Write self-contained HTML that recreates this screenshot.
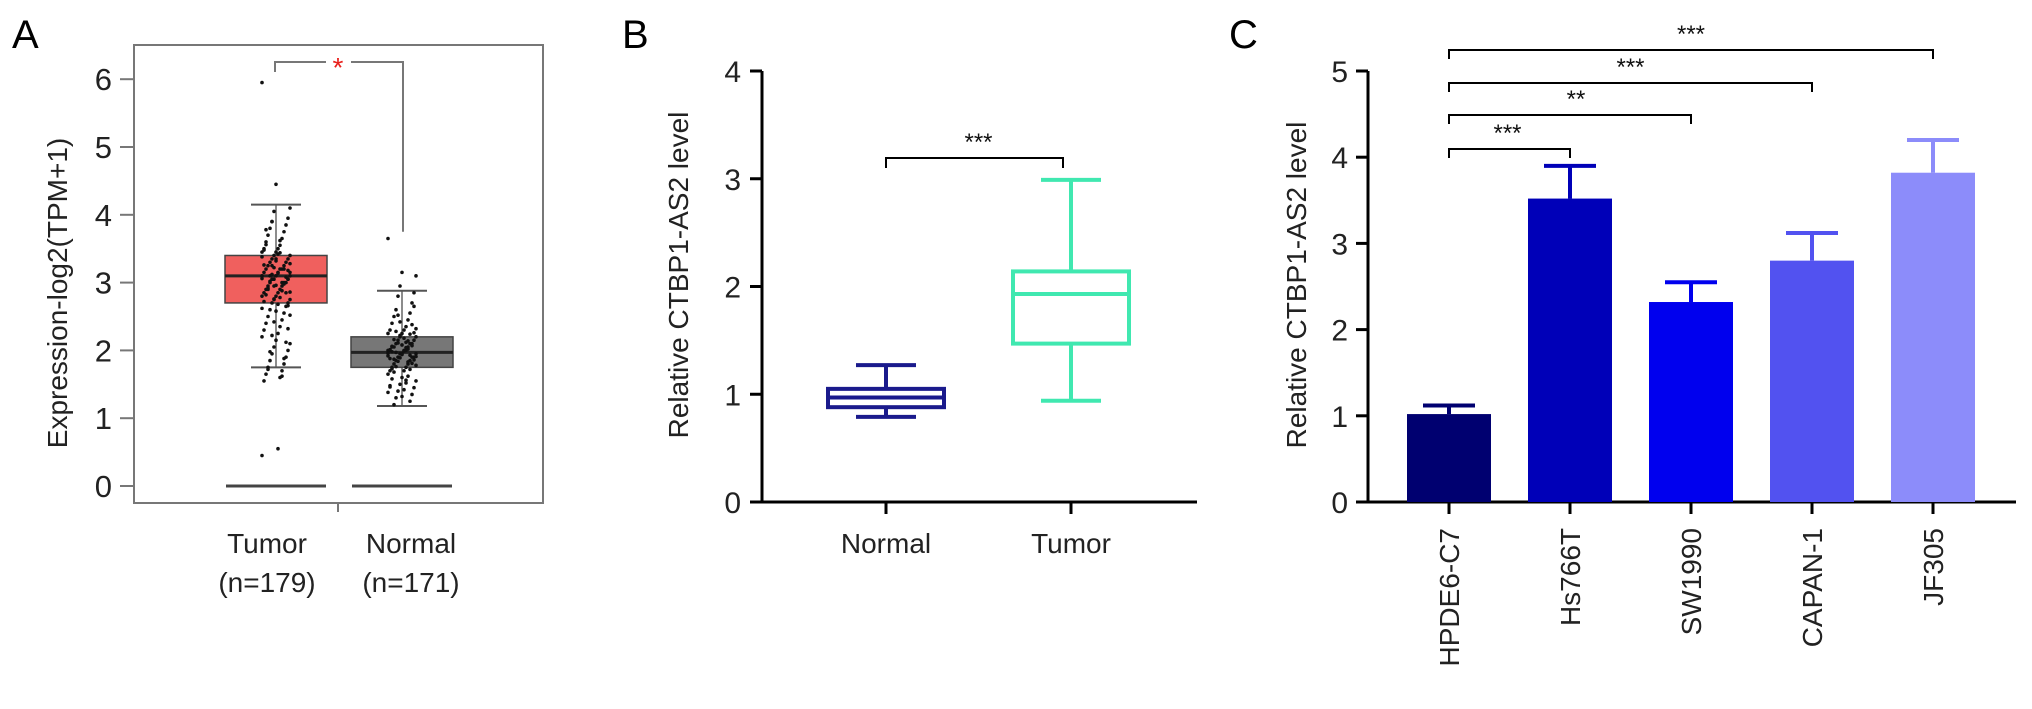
<!DOCTYPE html>
<html><head><meta charset="utf-8">
<style>
html,body{margin:0;padding:0;background:#fff;}
svg{display:block;font-family:"Liberation Sans",Arial,sans-serif;}
</style></head>
<body>
<svg id="fig" width="2032" height="709" viewBox="0 0 2032 709" xmlns="http://www.w3.org/2000/svg">
<text x="12" y="48" font-size="40">A</text>
<text x="622" y="48" font-size="40">B</text>
<text x="1229" y="48" font-size="40">C</text>
<g id="pa"></g>
<g id="pb"></g>
<g id="pc"></g>
</svg>
<script>
// ---------- Panel A data ----------
const aCategories = ["Tumor", "Normal"];
const aSubLabels = ["(n=179)", "(n=171)"];
const aTicks = [0,1,2,3,4,5,6];
const aQ1 = [2.7, 1.75];
const aMedian = [3.1, 1.97];
const aQ3 = [3.4, 2.2];
const aWhiskLo = [1.75, 1.18];
const aWhiskHi = [4.15, 2.88];
const aZeroLine = [0, 0];
const aTumorPoints = [5.95,4.45,4.1,4.05,3.95,3.9,3.85,3.8,3.75,3.7,3.65,3.6,3.55,3.5,3.5,3.45,3.45,3.4,3.4,3.35,3.35,3.3,3.3,3.25,3.25,3.2,3.2,3.2,3.15,3.15,3.1,3.1,3.1,3.05,3.05,3.05,3.0,3.0,3.0,2.95,2.95,2.9,2.9,2.85,2.85,2.8,2.8,2.75,2.75,2.7,2.7,2.65,2.6,2.55,2.5,2.45,2.4,2.35,2.3,2.25,2.2,2.15,2.1,2.05,2.0,1.95,1.9,1.85,1.8,1.75,1.7,1.65,1.6,1.55,0.55,0.45,3.35,3.15,2.95,3.05,3.25,2.85,3.1,3.2,2.9,3.0,
  3.78,3.62,3.48,3.42,3.38,3.32,3.28,3.22,3.18,3.12,3.08,3.02,2.98,2.92,2.88,2.82,2.78,2.72,2.68,2.62,2.58,2.52,2.42,2.32,2.22,2.12,1.98,1.88,1.72,1.62,3.56,3.44,3.26,3.14,3.06,2.96,2.86,2.76,2.66,3.9];
const aNormalPoints = [3.65,3.15,3.1,2.95,2.85,2.8,2.7,2.6,2.55,2.5,2.45,2.4,2.35,2.3,2.3,2.25,2.25,2.2,2.2,2.15,2.15,2.1,2.1,2.1,2.05,2.05,2.05,2.0,2.0,2.0,2.0,1.95,1.95,1.95,1.9,1.9,1.9,1.85,1.85,1.8,1.8,1.75,1.75,1.7,1.7,1.65,1.6,1.55,1.5,1.45,1.4,1.35,1.3,1.25,1.2,2.02,1.98,2.12,1.88,2.18,1.92,2.08,1.78,2.22,
  2.65,2.52,2.38,2.28,2.24,2.16,2.14,2.06,2.04,2.01,1.99,1.96,1.94,1.91,1.89,1.86,1.84,1.81,1.76,1.72,1.68,1.62,1.58,1.52,1.48,1.42,1.38,1.32,2.32,2.42,2.26,2.11,2.07,1.97,1.93,1.87,1.83,1.73,1.56,1.46];
const aSig = "*";

// ---------- Panel B data ----------
const bCategories = ["Normal", "Tumor"];
const bTicks = [0,1,2,3,4];
const bQ1 = [0.88, 1.47];
const bMedian = [0.97, 1.93];
const bQ3 = [1.05, 2.14];
const bWhiskLo = [0.79, 0.94];
const bWhiskHi = [1.27, 2.99];
const bSig = "***";

// ---------- Panel C data ----------
const cCategories = ["HPDE6-C7", "Hs766T", "SW1990", "CAPAN-1", "JF305"];
const cTicks = [0,1,2,3,4,5];
const cMeans = [1.02, 3.52, 2.32, 2.8, 3.82];
const cErrors = [0.1, 0.38, 0.23, 0.32, 0.38];
const cSigTargets = [1, 2, 3, 4];
const cSigLabels = ["***", "**", "***", "***"];

const NS = "http://www.w3.org/2000/svg";
function mk(parent, tag, attrs, text) {
  const e = document.createElementNS(NS, tag);
  for (const k in attrs) e.setAttribute(k, attrs[k]);
  if (text !== undefined) e.textContent = text;
  parent.appendChild(e);
  return e;
}

// ===== Panel A =====
(function(){
  const g = document.getElementById("pa");
  const y = v => 486 - v * 67.8;
  const xc = [276, 402];
  const halfW = 51;
  const frame = mk(g, "rect", {x:134, y:45, width:409, height:458, fill:"none", stroke:"#777", "stroke-width":2});
  
  
  aTicks.forEach(t => {
    const tk = mk(g, "line", {x1:120, x2:134, y1:y(t), y2:y(t), stroke:"#777", "stroke-width":2});
    
    
    const tl = mk(g, "text", {x:112, y:y(t)+11, "font-size":31, "text-anchor":"end", fill:"#222"}, t);
    
    
  });
  const xt = mk(g, "line", {x1:338, x2:338, y1:503, y2:512, stroke:"#777", "stroke-width":2});
  
  
  const yt = mk(g, "text", {x:0, y:0, "font-size":28, "text-anchor":"middle", fill:"#222", transform:"translate(67,293) rotate(-90)"}, "Expression-log2(TPM+1)");
  
  
  const fills = ["#f0605e", "#777777"];
  const boxNames = ["box-tumor", "box-normal"];
  aCategories.forEach((c, i) => {
    const x = xc[i];
    const w1 = mk(g, "line", {x1:x, x2:x, y1:y(aWhiskHi[i]), y2:y(aQ3[i]), stroke:"#666", "stroke-width":1.5});
    
    
    const w2 = mk(g, "line", {x1:x, x2:x, y1:y(aQ1[i]), y2:y(aWhiskLo[i]), stroke:"#666", "stroke-width":1.5});
    
    
    [aWhiskHi[i], aWhiskLo[i]].forEach(v => {
      const cap = mk(g, "line", {x1:x-25, x2:x+25, y1:y(v), y2:y(v), stroke:"#555", "stroke-width":2});
      
      
    });
    const b = mk(g, "rect", {x:x-halfW, y:y(aQ3[i]), width:halfW*2, height:y(aQ1[i])-y(aQ3[i]), fill:fills[i], stroke:"#444", "stroke-width":1.5});
    
    
    const m = mk(g, "line", {x1:x-halfW, x2:x+halfW, y1:y(aMedian[i]), y2:y(aMedian[i]), stroke:"#222", "stroke-width":3});
    
    
    const z = mk(g, "line", {x1:x-50, x2:x+50, y1:y(aZeroLine[i]), y2:y(aZeroLine[i]), stroke:"#444", "stroke-width":3});
    
    
    const lx = i === 0 ? 267 : 411;
    const l1 = mk(g, "text", {x:lx, y:553, "font-size":28, "text-anchor":"middle", fill:"#222"}, c);
    
    
    const l2 = mk(g, "text", {x:lx, y:592, "font-size":28, "text-anchor":"middle", fill:"#222"}, aSubLabels[i]);
    
    
  });
  const pts = [aTumorPoints, aNormalPoints];
  pts.forEach((arr, i) => {
    arr.forEach((v, j) => {
      const off = ((j * 7) % 15 - 7) * 2;
      const d = mk(g, "circle", {cx:xc[i]+off, cy:y(v), r:1.8, fill:"#111"});
      
      
    });
  });
  const br = mk(g, "path", {d:`M275 72 V62 H326 M351 62 H403 V${y(3.75)}`, fill:"none", stroke:"#777", "stroke-width":2});
  
  
  const st = mk(g, "text", {x:338, y:77, "font-size":28, "text-anchor":"middle", fill:"#e8201c"}, aSig);
  
  
})();

// ===== Panel B =====
(function(){
  const g = document.getElementById("pb");
  const y = v => 502 - v * 107.75;
  const xc = [886, 1071];
  const colors = ["#1a1a8c", "#40e8b0"];
  const ax = mk(g, "path", {d:"M762 71 V502 H1197", fill:"none", stroke:"#000", "stroke-width":3});
  
  
  bTicks.forEach(t => {
    const tk = mk(g, "line", {x1:750, x2:762, y1:y(t), y2:y(t), stroke:"#000", "stroke-width":3});
    
    
    const tl = mk(g, "text", {x:741, y:y(t)+11, "font-size":30, "text-anchor":"end", fill:"#222"}, t);
    
    
  });
  const yt = mk(g, "text", {x:0, y:0, "font-size":28, "text-anchor":"middle", fill:"#222", transform:"translate(688,275) rotate(-90)"}, "Relative CTBP1-AS2 level");
  
  
  bCategories.forEach((c, i) => {
    const x = xc[i];
    const col = colors[i];
    const tk = mk(g, "line", {x1:x, x2:x, y1:502, y2:514, stroke:"#000", "stroke-width":3});
    
    
    const lb = mk(g, "text", {x:x, y:553, "font-size":28, "text-anchor":"middle", fill:"#222"}, c);
    
    
    const wl = mk(g, "path", {d:`M${x} ${y(bWhiskHi[i])} V${y(bQ3[i])} M${x} ${y(bQ1[i])} V${y(bWhiskLo[i])} M${x-30} ${y(bWhiskHi[i])} H${x+30} M${x-30} ${y(bWhiskLo[i])} H${x+30}`, fill:"none", stroke:col, "stroke-width":4});
    
    
    const bx = mk(g, "rect", {x:x-58, y:y(bQ3[i]), width:116, height:y(bQ1[i])-y(bQ3[i]), fill:"none", stroke:col, "stroke-width":4});
    
    
    const md = mk(g, "line", {x1:x-58, x2:x+58, y1:y(bMedian[i]), y2:y(bMedian[i]), stroke:col, "stroke-width":4});
    
    
  });
  const br = mk(g, "path", {d:`M${xc[0]} 168 V158 H${xc[1]-8} V168`, fill:"none", stroke:"#000", "stroke-width":2});
  
  
  const st = mk(g, "text", {x:(xc[0]+xc[1])/2, y:150, "font-size":24, "text-anchor":"middle", fill:"#111"}, bSig);
  
  
})();

// ===== Panel C =====
(function(){
  const g = document.getElementById("pc");
  const y = v => 502 - v * 86.2;
  const x = i => 1449 + i * 121;
  const colors = ["#000070", "#0000b8", "#0000ee", "#5252f0", "#8c8cfa"];
  const ax = mk(g, "path", {d:"M1368 71 V502 H2016", fill:"none", stroke:"#000", "stroke-width":3});
  
  
  cTicks.forEach(t => {
    const tk = mk(g, "line", {x1:1356, x2:1368, y1:y(t), y2:y(t), stroke:"#000", "stroke-width":3});
    
    
    const tl = mk(g, "text", {x:1348, y:y(t)+11, "font-size":30, "text-anchor":"end", fill:"#222"}, t);
    
    
  });
  const yt = mk(g, "text", {x:0, y:0, "font-size":28, "text-anchor":"middle", fill:"#222", transform:"translate(1306,285) rotate(-90)"}, "Relative CTBP1-AS2 level");
  
  
  cCategories.forEach((c, i) => {
    const cx = x(i);
    const top = y(cMeans[i]);
    const err = y(cMeans[i] + cErrors[i]);
    const eb = mk(g, "path", {d:`M${cx} ${top} V${err} M${cx-26} ${err} H${cx+26}`, fill:"none", stroke:colors[i], "stroke-width":4});
    
    
    const bar = mk(g, "rect", {x:cx-42, y:top, width:84, height:502-top, fill:colors[i]});
    
    
    const tk = mk(g, "line", {x1:cx, x2:cx, y1:502, y2:514, stroke:"#000", "stroke-width":3});
    
    
    const lb = mk(g, "text", {x:0, y:0, "font-size":28, "text-anchor":"end", fill:"#222", transform:`translate(${cx+10},528) rotate(-90)`}, c);
    
    
  });
  const brY = [149, 115, 83, 50];
  cSigTargets.forEach((t, k) => {
    const by = brY[k];
    const br = mk(g, "path", {d:`M${x(0)} ${by+9} V${by} H${x(t)} V${by+9}`, fill:"none", stroke:"#000", "stroke-width":2});
    
    
    const lbl = mk(g, "text", {x:(x(0)+x(t))/2 - (t===1?2:t===2?-6:0), y:by-8, "font-size":24, "text-anchor":"middle", fill:"#111"}, cSigLabels[k]);
    
    
  });
})();
</script>
</body></html>
